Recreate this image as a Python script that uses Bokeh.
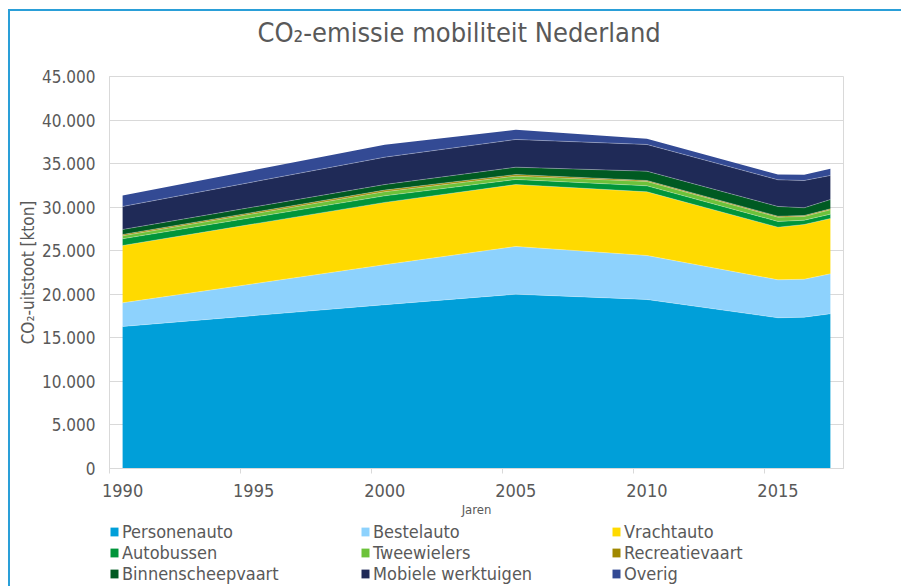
from bokeh.plotting import figure
from bokeh.layouts import column
from bokeh.models import ColumnDataSource, Range1d, FixedTicker, Legend, LegendItem
from bokeh.transform import stack
from bokeh.embed import file_html
from bokeh.resources import INLINE

# ---- data (kton CO2) ----
years = [1990, 2000, 2005, 2010, 2015, 2016, 2017]
personenauto = [16300, 18800, 20010, 19400, 17300, 17370, 17760]
bestelauto = [2720, 4600, 5480, 5050, 4360, 4360, 4590]
vrachtauto = [6580, 7150, 7110, 7310, 6040, 6280, 6350]
autobussen = [770, 750, 580, 690, 660, 490, 500]
tweewielers = [340, 480, 380, 500, 490, 430, 500]
recreatievaart = [150, 180, 190, 110, 110, 110, 110]
binnenscheepvaart = [580, 640, 840, 1070, 1120, 890, 1070]
mobiele_werktuigen = [2640, 3140, 3180, 3065, 3060, 3130, 2760]
overig = [1260, 1430, 1110, 655, 610, 650, 760]

series_labels = ["Personenauto", "Bestelauto", "Vrachtauto", "Autobussen", "Tweewielers",
                 "Recreatievaart", "Binnenscheepvaart", "Mobiele werktuigen", "Overig"]
series_keys = ["personenauto", "bestelauto", "vrachtauto", "autobussen", "tweewielers",
               "recreatievaart", "binnenscheepvaart", "mobiele_werktuigen", "overig"]
colors = ["#009fd9", "#8dd2fd", "#ffda00", "#00953a", "#6cc23a",
          "#a08800", "#005a22", "#1f2a57", "#334a94"]

x_ticks = [1990, 1995, 2000, 2005, 2010, 2015]
x_tick_labels = ["1990", "1995", "2000", "2005", "2010", "2015"]
y_ticks = [0, 5000, 10000, 15000, 20000, 25000, 30000, 35000, 40000, 45000]
y_tick_labels = ["0", "5.000", "10.000", "15.000", "20.000", "25.000", "30.000",
                 "35.000", "40.000", "45.000"]

title_text = "CO\u2082-emissie mobiliteit Nederland"
y_label = "CO\u2082-uitstoot [kton]"
x_label = "Jaren"

FONT = "DejaVu Sans Condensed"
GREY = "#595959"
LINE = "#d9d9d9"
FRAME_BLUE = "#2a9fd8"

values = [personenauto, bestelauto, vrachtauto, autobussen, tweewielers,
          recreatievaart, binnenscheepvaart, mobiele_werktuigen, overig]
data = {"x": [y + 0.5 for y in years]}
for k, v in zip(series_keys, values):
    data[k] = v
source = ColumnDataSource(data)

# ---- title strip ----
tf = figure(width=901, height=50, x_range=Range1d(0, 1), y_range=Range1d(0, 1),
            output_backend="svg", toolbar_location=None,
            min_border_left=108, min_border_right=58, min_border_top=47,
            min_border_bottom=0)
tf.axis.visible = False
tf.grid.visible = False
tf.outline_line_color = None
tf.border_fill_color = None
tf.background_fill_color = None
tf.title.text = title_text
tf.title.align = "left"
tf.title.offset = 148
tf.title.standoff = 0
tf.title.text_font = FONT
tf.title.text_font_size = "27px"
tf.title.text_font_style = "normal"
tf.title.text_color = GREY

# ---- main chart ----
p = figure(width=901, height=470, title=None,
           x_range=Range1d(1990, 2018), y_range=Range1d(0, 45000),
           output_backend="svg", toolbar_location=None,
           min_border_left=108, min_border_right=58, min_border_top=26,
           min_border_bottom=52)
p.border_fill_color = None
p.background_fill_color = "white"

renderers = p.varea_stack(stackers=series_keys, x="x", color=colors, source=source)
for i in range(len(series_keys) - 1):
    p.line(x="x", y=stack(*series_keys[:i + 1]), source=source,
           line_color="white", line_alpha=0.35, line_width=0.8)

# frame & grid
p.outline_line_color = LINE
p.xgrid.visible = False
p.ygrid.ticker = FixedTicker(ticks=y_ticks)
p.ygrid.grid_line_color = LINE

# y axis
ya = p.yaxis[0]
ya.ticker = FixedTicker(ticks=y_ticks)
ya.major_label_overrides = {t: l for t, l in zip(y_ticks, y_tick_labels)}
ya.major_tick_line_color = None
ya.minor_tick_line_color = None
ya.major_tick_out = 0
ya.major_tick_in = 0
ya.axis_line_color = LINE
ya.major_label_standoff = 14
ya.major_label_text_font = FONT
ya.major_label_text_font_size = "17px"
ya.major_label_text_color = GREY
ya.axis_label = y_label
ya.axis_label_text_font = FONT
ya.axis_label_text_font_size = "17px"
ya.axis_label_text_font_style = "normal"
ya.axis_label_text_color = GREY
ya.axis_label_standoff = 1

# x axis: labels at mid-year, tick marks at year boundaries
xa = p.xaxis[0]
xa.ticker = FixedTicker(ticks=[t + 0.5 for t in x_ticks], minor_ticks=x_ticks)
xa.major_label_overrides = {t + 0.5: l for t, l in zip(x_ticks, x_tick_labels)}
xa.major_tick_line_color = None
xa.major_tick_out = 5
xa.major_tick_in = 0
xa.minor_tick_line_color = LINE
xa.minor_tick_in = 0
xa.minor_tick_out = 5
xa.axis_line_color = LINE
xa.major_label_standoff = 10
xa.major_label_text_font = FONT
xa.major_label_text_font_size = "18px"
xa.major_label_text_color = GREY
xa.axis_label = x_label
xa.axis_label_text_font = FONT
xa.axis_label_text_font_size = "13px"
xa.axis_label_text_font_style = "normal"
xa.axis_label_text_color = GREY
xa.axis_label_standoff = 2

# ---- legend strip below the chart ----
lf = figure(width=901, height=66, x_range=Range1d(0, 1), y_range=Range1d(0, 1),
            output_backend="svg", toolbar_location=None,
            min_border_left=109, min_border_right=0, min_border_top=1, min_border_bottom=0)
lf.axis.visible = False
lf.grid.visible = False
lf.outline_line_color = None
lf.border_fill_color = None
lf.background_fill_color = None
legend_renderers = [lf.varea(x=[5, 6], y1=[5, 5], y2=[6, 6], color=c) for c in colors]
items = [LegendItem(label=lab, renderers=[r]) for lab, r in zip(series_labels, legend_renderers)]
legend = Legend(items=items, location="top_left", orientation="horizontal", ncols=3,
                label_text_font=FONT, label_text_font_size="18px", label_text_color=GREY,
                glyph_width=10, glyph_height=11, label_width=238, label_height=19,
                label_standoff=3, spacing=0, padding=0, margin=0,
                border_line_color=None, background_fill_alpha=0)
lf.add_layout(legend, "center")

layout = column(tf, p, lf, spacing=0)
layout.styles = {
    "background-color": "white",
    "background-image": f"linear-gradient({FRAME_BLUE}, {FRAME_BLUE}), linear-gradient({FRAME_BLUE}, {FRAME_BLUE})",
    "background-size": "2px 100%, 100% 2px",
    "background-position": "8px 9px, 8px 9px",
    "background-repeat": "no-repeat",
}
open("out.html", "w").write(file_html(layout, INLINE))
